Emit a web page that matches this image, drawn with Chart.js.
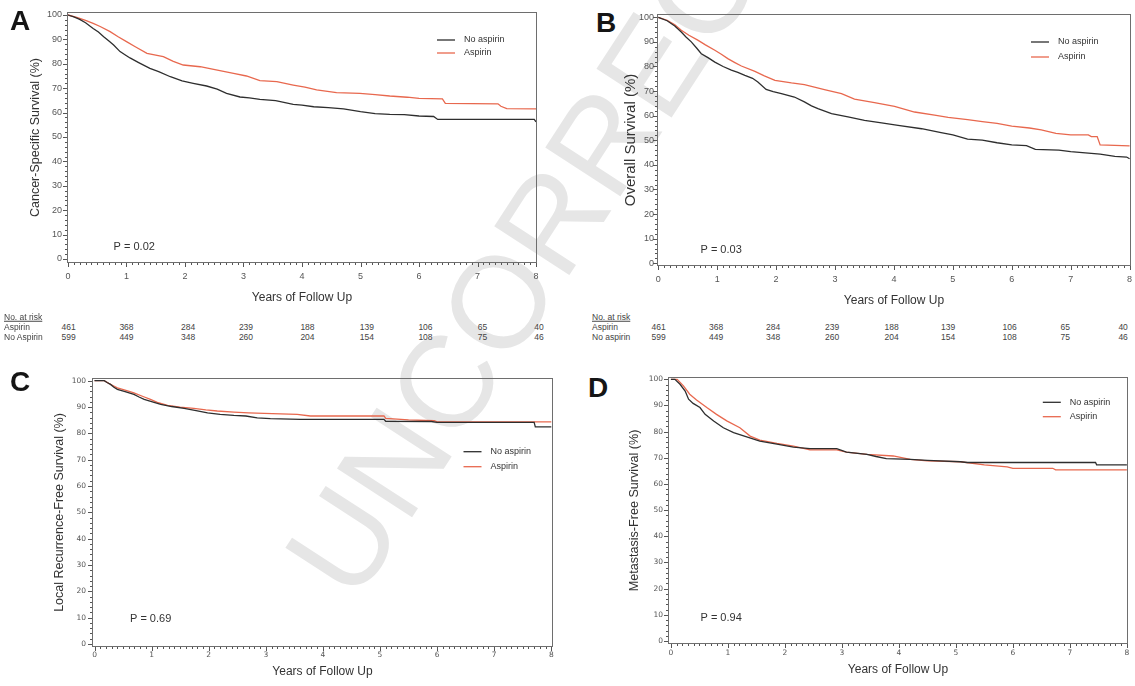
<!DOCTYPE html>
<html><head><meta charset="utf-8">
<script src="https://cdn.jsdelivr.net/npm/chart.js@4.4.1/dist/chart.umd.min.js"></script>
<style>
html,body{margin:0;padding:0;background:#fff;width:1135px;height:686px;overflow:hidden;font-family:'Liberation Sans',Arial,sans-serif;}
canvas{position:absolute;z-index:1}
.letter{position:absolute;font-weight:bold;font-size:28px;line-height:1;color:#151515;z-index:2}
.risk{position:absolute;font-size:8.5px;color:#444;line-height:1;white-space:nowrap;z-index:2;transform:translateY(-50%)}
#wm{position:absolute;left:355px;top:605px;width:0;height:0;transform:rotate(-57deg);transform-origin:0 0;z-index:0}
#wm span{position:absolute;left:0;bottom:-20px;font:130px/1 'Liberation Sans',Arial,sans-serif;color:#e6e6e6;white-space:nowrap}
</style></head><body>
<div id="wm"><span>UNCORRECTED</span></div>
<div class="letter" style="left:10px;top:7px">A</div>
<div class="letter" style="left:596px;top:9px">B</div>
<div class="letter" style="left:10px;top:368px">C</div>
<div class="letter" style="left:588px;top:374px">D</div>
<canvas id="cA"></canvas><canvas id="cB"></canvas><canvas id="cC"></canvas><canvas id="cD"></canvas>
<div id="risk"></div>
<script>
// ---------- data ----------
const yearTicks = [0,1,2,3,4,5,6,7,8];
const pctTicks = [0,10,20,30,40,50,60,70,80,90,100];
const seriesLabels = ['No aspirin','Aspirin'];
const xTitle = 'Years of Follow Up';
const yTitles = ['Cancer-Specific Survival (%)','Overall Survival (%)','Local Recurrence-Free Survival (%)','Metastasis-Free Survival (%)'];
const pValues = ['P = 0.02','P = 0.03','P = 0.69','P = 0.94'];
const riskHeader = 'No. at risk';
const riskRowsLeft = ['Aspirin','No Aspirin'];
const riskRowsRight = ['Aspirin','No aspirin'];
const riskAspirin = [461,368,284,239,188,139,106,65,40];
const riskNoAspirin = [599,449,348,260,204,154,108,75,46];

// Panel A: cancer-specific survival
const A_no_t  = [0,0.1,0.2,0.3,0.43,0.52,0.61,0.7,0.78,0.89,1.0,1.06,1.2,1.4,1.55,1.75,1.95,2.14,2.37,2.55,2.71,2.94,3.1,3.28,3.55,3.85,4.0,4.2,4.45,4.71,5.0,5.25,5.5,5.75,6.0,6.25,6.32,7.97,8.0];
const A_no_s  = [100,99.2,98.2,96.8,94.5,93.0,91.1,89.3,87.7,85.0,83.3,82.4,80.6,78.1,76.8,74.7,73.0,72.0,70.9,69.6,67.9,66.4,66.0,65.4,64.9,63.4,63.1,62.4,62.0,61.5,60.4,59.6,59.3,59.2,58.6,58.4,57.2,57.2,56.2];
const A_asp_t = [0,0.15,0.3,0.43,0.55,0.72,0.85,1.0,1.15,1.35,1.5,1.63,1.8,1.97,2.26,2.49,2.83,3.05,3.28,3.57,3.85,4.05,4.25,4.59,4.99,5.25,5.5,5.8,6.0,6.4,6.45,7.35,7.4,7.5,8.0];
const A_asp_s = [100,99.0,97.8,96.6,95.3,93.2,91.2,89.1,87.0,84.3,83.6,82.9,81.0,79.5,78.8,77.7,76.1,75.0,73.1,72.7,71.3,70.4,69.3,68.2,67.9,67.4,66.8,66.3,65.8,65.6,63.8,63.6,62.6,61.6,61.5];
// Panel B: overall survival
const B_no_t  = [0,0.15,0.28,0.39,0.47,0.56,0.65,0.73,0.85,0.96,1.1,1.24,1.35,1.47,1.6,1.69,1.83,1.95,2.09,2.31,2.48,2.6,2.71,2.94,3.22,3.5,3.79,4.07,4.47,4.8,5.0,5.25,5.5,5.75,6.0,6.25,6.4,6.8,7.0,7.5,7.75,7.95,8.0];
const B_no_s  = [100,98.6,96.5,94.0,92.0,90.0,87.5,85.2,83.5,81.8,80.0,78.5,77.6,76.4,75.2,73.7,70.7,69.8,69.0,67.6,65.6,64.0,62.9,60.8,59.5,58.1,57.1,56.1,54.7,53.1,52.2,50.5,50.1,49.0,48.1,47.8,46.3,46.0,45.4,44.4,43.5,43.2,42.5];
const B_asp_t = [0,0.15,0.28,0.39,0.52,0.67,0.8,0.96,1.07,1.18,1.3,1.41,1.64,1.8,1.98,2.26,2.48,2.65,2.82,3.11,3.33,3.67,4.01,4.35,4.69,4.92,5.25,5.5,5.75,6.0,6.3,6.5,6.75,7.0,7.3,7.35,7.45,7.5,8.0];
const B_asp_s = [100,98.8,97.0,94.7,92.7,90.7,88.8,86.6,85.0,83.2,81.6,80.2,78.0,76.2,74.4,73.3,72.6,71.6,70.6,69.0,66.7,65.3,63.8,61.5,60.2,59.3,58.4,57.6,56.9,55.8,55.0,54.2,52.8,52.2,52.2,51.5,51.5,48.1,47.7];
// Panel C: local recurrence-free survival
const C_no_t  = [0,0.17,0.22,0.28,0.34,0.4,0.55,0.69,0.78,0.87,1.0,1.16,1.35,1.57,1.78,1.98,2.2,2.44,2.65,2.85,3.08,3.61,5.07,5.1,5.9,6.0,7.7,7.72,8.0];
const C_no_s  = [100,100,99.3,98.6,97.5,96.7,95.8,94.8,93.8,92.9,92.1,91.0,90.2,89.5,88.6,87.8,87.2,86.8,86.6,85.9,85.6,85.3,85.3,84.6,84.5,84.2,84.2,82.5,82.5];
const C_asp_t = [0,0.17,0.25,0.32,0.4,0.55,0.69,0.85,0.98,1.1,1.28,1.5,1.74,1.95,2.15,2.44,2.7,2.97,3.55,3.78,5.07,5.1,5.5,5.95,6.0,8.0];
const C_asp_s = [100,100,99.0,98.2,97.3,96.3,95.4,94.0,92.9,91.8,90.6,90.0,89.5,88.9,88.5,88.1,87.8,87.6,87.2,86.6,86.6,85.7,85.1,84.8,84.4,84.4];
// Panel D: metastasis-free survival
const D_no_t  = [0,0.07,0.16,0.25,0.31,0.39,0.51,0.6,0.75,0.92,1.1,1.33,1.56,1.86,2.15,2.44,2.91,3.08,3.44,3.6,3.78,4.2,4.5,5.08,5.2,7.45,7.47,8.0];
const D_no_s  = [100,100,98.1,95.5,92.4,90.8,89.2,86.6,84.1,81.5,79.6,78.0,76.4,75.2,74.1,73.5,73.5,72.2,71.3,70.5,69.7,69.4,69.0,68.5,68.2,68.2,67.3,67.3];
const D_asp_t = [0,0.11,0.22,0.33,0.45,0.63,0.8,0.98,1.21,1.39,1.56,1.86,2.15,2.44,2.91,3.08,3.44,3.9,4.2,4.5,5.08,5.5,5.9,6.0,6.7,6.75,8.0];
const D_asp_s = [100,100,97.5,94.3,92.1,89.2,86.6,84.1,81.5,78.3,76.8,75.5,74.5,73.0,73.0,72.2,71.3,70.7,69.4,68.8,68.5,67.3,66.5,66.0,66.0,65.4,65.4];

// ---------- layout / style ----------
const COL_NO = '#2e2e2e', COL_ASP = '#e8684e';
const panels = [
 {cv:'cA', pos:[28,2,519,303], yW:39, xH:42, pt:10, pr:10, x:[-0.017,8.017], y:[-1.64,101.23],
  t:[A_no_t,A_asp_t], s:[A_no_s,A_asp_s], yt:yTitles[0], p:pValues[0], tf:'Liberation Sans', ts:9, ytp:5, xtp:8.6, yts:12.5,
  leg:[370,28,13], pp:[46.6,235]},
 {cv:'cB', pos:[622,4,513,304], yW:35, xH:42, pt:10, pr:4, x:[-0.022,8.024], y:[-1.1,101.34],
  t:[B_no_t,B_asp_t], s:[B_no_s,B_asp_s], yt:yTitles[1], p:pValues[1], tf:'Liberation Sans', ts:9, ytp:3, xtp:8.6, yts:15,
  leg:[374,28,15], pp:[43.5,236]},
 {cv:'cC', pos:[52,368,511,311], yW:40, xH:32, pt:10, pr:10, x:[-0.044,8.03], y:[-1.14,101.03],
  t:[C_no_t,C_asp_t], s:[C_no_s,C_asp_s], yt:yTitles[2], p:pValues[2], tf:'DejaVu Sans', ts:7.5, ytp:6, xtp:3.2, yts:12.5,
  leg:[371.5,73.7,15], pp:[38,241.3]},
 {cv:'cD', pos:[627,367,508,310], yW:41, xH:33, pt:10, pr:7, x:[-0.051,8.02], y:[-1.15,100.88],
  t:[D_no_t,D_asp_t], s:[D_no_s,D_asp_s], yt:yTitles[3], p:pValues[3], tf:'DejaVu Sans', ts:7.5, ytp:5, xtp:4.5, yts:12.6,
  leg:[374.8,25.3,14.4], pp:[32.5,240.7]}
];

const decor = {
  id:'decor',
  afterDraw(chart){
    const P = chart.options.plugins.decor;
    const {ctx, chartArea:ca, scales:{x, y}} = chart;
    ctx.save();
    ctx.strokeStyle = '#6e6e6e'; ctx.lineWidth = 1;
    ctx.strokeRect(ca.left+0.5, ca.top+0.5, ca.right-ca.left-1, ca.bottom-ca.top-1);
    ctx.strokeStyle = '#555';
    ctx.beginPath();
    for (let i=0;i<=80;i++){
      const px = Math.round(x.getPixelForValue(i/10))+0.5;
      const len = i%10===0 ? 4 : 2;
      ctx.moveTo(px, ca.bottom); ctx.lineTo(px, ca.bottom+len);
    }
    for (let v=0; v<=100; v+=2){
      const py = Math.round(y.getPixelForValue(v))+0.5;
      const len = v%10===0 ? 4 : 2;
      ctx.moveTo(ca.left, py); ctx.lineTo(ca.left-len, py);
    }
    ctx.stroke();
    // legend
    ctx.font = '9px "Liberation Sans", Arial, sans-serif';
    ctx.textBaseline = 'middle'; ctx.textAlign = 'left';
    chart.data.datasets.forEach((ds,i)=>{
      const ly = ca.top + P.leg[1] + i*P.leg[2];
      const lx = ca.left + P.leg[0];
      ctx.strokeStyle = ds.borderColor; ctx.lineWidth = 1.3;
      ctx.beginPath(); ctx.moveTo(lx, ly); ctx.lineTo(lx+18, ly); ctx.stroke();
      ctx.fillStyle = '#333';
      ctx.fillText(ds.label, lx+27, ly);
    });
    // p value
    ctx.font = '11px "Liberation Sans", Arial, sans-serif';
    ctx.fillStyle = '#333';
    ctx.fillText(P.p, ca.left + P.pp[0], ca.top + P.pp[1]);
    ctx.restore();
  }
};

panels.forEach(pn=>{
  const cv = document.getElementById(pn.cv);
  cv.width = pn.pos[2]; cv.height = pn.pos[3];
  cv.style.left = pn.pos[0]+'px'; cv.style.top = pn.pos[1]+'px';
  cv.style.width = pn.pos[2]+'px'; cv.style.height = pn.pos[3]+'px';
  const tickFont = {family: pn.tf, size: pn.ts};
  new Chart(cv, {
    type:'line',
    data:{ datasets:[0,1].map(k=>({
      label: seriesLabels[k],
      data: pn.t[k].map((tv,j)=>({x:tv, y:pn.s[k][j]})),
      borderColor: k===0 ? COL_NO : COL_ASP,
      borderWidth: 1.3, pointRadius: 0, tension: 0, fill: false
    }))},
    options:{
      responsive:false, animation:false, devicePixelRatio:1,
      layout:{padding:{top:pn.pt, right:pn.pr, left:0, bottom:0}},
      plugins:{legend:{display:false}, tooltip:{enabled:false},
        decor:{leg:pn.leg, p:pn.p, pp:pn.pp}},
      scales:{
        x:{type:'linear', min:pn.x[0], max:pn.x[1],
          grid:{display:false, drawTicks:false}, border:{display:false},
          afterBuildTicks:s=>{s.ticks = yearTicks.map(v=>({value:v}));},
          ticks:{autoSkip:false, maxRotation:0, padding:pn.xtp, font:tickFont, color:'#555', callback:v=>String(v)},
          title:{display:true, text:xTitle, color:'#333', padding:0, font:{family:'Liberation Sans', size:12}},
          afterFit:s=>{s.height = pn.xH; s.paddingLeft=0; s.paddingRight=0; s.paddingTop=0; s.paddingBottom=0;}
        },
        y:{type:'linear', min:pn.y[0], max:pn.y[1],
          grid:{display:false, drawTicks:false}, border:{display:false},
          afterBuildTicks:s=>{s.ticks = pctTicks.map(v=>({value:v}));},
          ticks:{autoSkip:false, padding:pn.ytp, font:tickFont, color:'#555', callback:v=>String(v)},
          title:{display:true, text:pn.yt, color:'#333', padding:0, font:{family:'Liberation Sans', size:pn.yts}},
          afterFit:s=>{s.width = pn.yW; s.paddingLeft=0; s.paddingRight=0; s.paddingTop=0; s.paddingBottom=0;}
        }
      }
    },
    plugins:[decor]
  });
});

// ---------- number-at-risk tables ----------
const riskBox = document.getElementById('risk');
function addText(txt, left, top, extra){
  const d = document.createElement('div');
  d.className = 'risk'; d.textContent = txt;
  d.style.left = left+'px'; d.style.top = top+'px';
  if (extra) Object.assign(d.style, extra);
  riskBox.appendChild(d);
}
const riskTables = [
  {labelX:4, cols:[61.5,119.4,181,238.9,300.4,359.8,418.4,477.7,534.2], rows:riskRowsLeft},
  {labelX:592, cols:[651.5,709,766,825,884.5,941,1002.5,1060.5,1118.4], rows:riskRowsRight}
];
const rowY = [317, 327, 337];
riskTables.forEach(tb=>{
  addText(riskHeader, tb.labelX, rowY[0], {textDecoration:'underline'});
  addText(tb.rows[0], tb.labelX, rowY[1]);
  addText(tb.rows[1], tb.labelX, rowY[2]);
  tb.cols.forEach((cx,i)=>{
    addText(String(riskAspirin[i]), cx, rowY[1]);
    addText(String(riskNoAspirin[i]), cx, rowY[2]);
  });
});
</script>
</body></html>
